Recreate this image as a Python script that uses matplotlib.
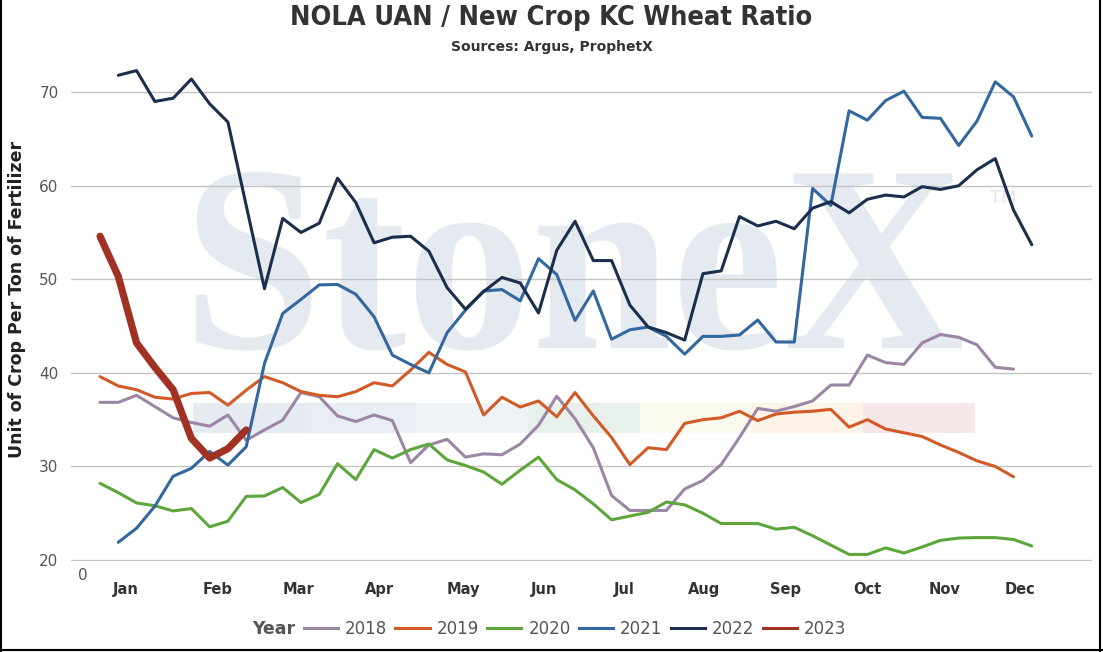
import matplotlib.pyplot as plt
from matplotlib.lines import Line2D
from matplotlib.patches import Rectangle, PathPatch
from matplotlib.textpath import TextPath
from matplotlib.font_manager import FontProperties
from matplotlib.transforms import Affine2D

# weekly NOLA UAN / new crop KC wheat ratio, week 1 = first week of January
years = ["2018", "2019", "2020", "2021", "2022", "2023"]
first_week = [1, 1, 1, 2, 2, 1]

ratio_2018 = [36.85, 36.85, 37.6, 36.4, 35.2, 34.7, 34.3, 35.5, 32.8, 33.9,
              34.95, 37.9, 37.45, 35.4, 34.8, 35.5, 34.9, 30.4, 32.3, 32.9,
              31.0, 31.35, 31.25, 32.4, 34.4, 37.5, 35.1, 32.0, 26.9, 25.3,
              25.3, 25.3, 27.6, 28.5, 30.2, 33.1, 36.2, 35.9, 36.4, 37.0,
              38.7, 38.7, 41.9, 41.1, 40.9, 43.2, 44.1, 43.8, 43.0, 40.6,
              40.4]
ratio_2019 = [39.6, 38.6, 38.2, 37.4, 37.2, 37.8, 37.9, 36.55, 38.15, 39.6,
              38.95, 38.0, 37.6, 37.45, 38.0, 38.95, 38.6, 40.3, 42.2, 40.9,
              40.1, 35.5, 37.4, 36.35, 37.0, 35.3, 37.9, 35.4, 33.1, 30.2,
              32.0, 31.8, 34.6, 35.0, 35.2, 35.9, 34.9, 35.6, 35.8, 35.9,
              36.1, 34.2, 35.0, 34.0, 33.6, 33.2, 32.3, 31.5, 30.6, 30.0,
              28.9]
ratio_2020 = [28.2, 27.2, 26.1, 25.8, 25.25, 25.5, 23.55, 24.15, 26.8, 26.85,
              27.75, 26.15, 27.0, 30.3, 28.6, 31.8, 30.9, 31.8, 32.4, 30.7,
              30.1, 29.4, 28.1, 29.6, 31.0, 28.6, 27.5, 26.0, 24.3, 24.7,
              25.1, 26.2, 25.9, 25.0, 23.9, 23.9, 23.9, 23.3, 23.5, 22.6,
              21.6, 20.6, 20.6, 21.3, 20.75, 21.4, 22.1, 22.35, 22.4, 22.4,
              22.2, 21.5]
ratio_2021 = [21.9, 23.4, 25.75, 28.95, 29.8, 31.6, 30.15, 32.1, 41.0, 46.35,
              47.85, 49.4, 49.45, 48.4, 46.0, 41.9, 40.9, 40.0, 44.3, 46.7,
              48.75, 48.9, 47.7, 52.2, 50.5, 45.6, 48.75, 43.6, 44.6, 44.9,
              43.9, 42.0, 43.9, 43.9, 44.05, 45.65, 43.3, 43.3, 59.7, 57.9,
              68.0, 67.0, 69.1, 70.1, 67.3, 67.2, 64.3, 66.9, 71.1, 69.5,
              65.3]
ratio_2022 = [71.8, 72.3, 69.0, 69.35, 71.4, 68.75, 66.8, 57.9, 49.0, 56.5,
              55.0, 56.0, 60.8, 58.2, 53.9, 54.5, 54.6, 53.0, 49.1, 46.8,
              48.7, 50.2, 49.6, 46.4, 53.1, 56.2, 52.0, 52.0, 47.25, 44.9,
              44.3, 43.5, 50.6, 50.9, 56.7, 55.7, 56.2, 55.4, 57.6, 58.3,
              57.1, 58.55, 59.0, 58.8, 59.9, 59.6, 60.0, 61.7, 62.9, 57.4,
              53.7]
ratio_2023 = [54.6, 50.3, 43.2, 40.6, 38.2, 33.0, 30.9, 31.9, 33.9]

series = [ratio_2018, ratio_2019, ratio_2020, ratio_2021, ratio_2022, ratio_2023]
colors = ["#9b86a6", "#d15a27", "#5ea63c", "#33679f", "#1b2e4c", "#a13223"]
widths = [2.2, 2.2, 2.2, 2.2, 2.2, 5.2]

month_labels = ["Jan", "Feb", "Mar", "Apr", "May", "Jun",
                "Jul", "Aug", "Sep", "Oct", "Nov", "Dec"]
month_ticks = [2.42, 7.46, 11.84, 16.3, 20.9, 25.3,
               29.7, 34.06, 38.5, 42.98, 47.2, 51.35]
y_ticks = [20, 30, 40, 50, 60, 70]

band_colors = ["#e6eaf1", "#e9eef5", "#eef3f8", "#e7f0ea",
               "#fafaee", "#fdf4e7", "#f8e7e9"]

fig = plt.figure(figsize=(11.03, 6.52), dpi=100)
ax = fig.add_axes([0.0644, 0.1396, 0.9257, 0.7837])
ax.set_xlim(-0.587, 55.3)
ax.set_ylim(19.9, 74.5)

# StoneX watermark behind the data
tp = TextPath((0, 0), "StoneX", size=1,
              prop=FontProperties(family="Liberation Serif", weight="bold"))
bb = tp.get_extents()
sx = (48.18 - 6.25) / bb.width
sy = (61.5 - 42.65) / bb.ymax
wm = Affine2D().scale(sx, sy).translate(6.25 - bb.xmin * sx, 42.65)
ax.add_patch(PathPatch(tp, transform=wm + ax.transData,
                       facecolor="#e5e9f0", edgecolor="none", zorder=0.1))
ax.text(49.7, 58.1, "TM", fontsize=13, color="#e2e6ee", zorder=0.1)
seg = 6.114
for i, c in enumerate(band_colors):
    ax.add_patch(Rectangle((6.09 + i * seg, 33.53), seg, 3.27,
                           facecolor=c, edgecolor="none", zorder=0.1))

for vals, start, c, lw in zip(series, first_week, colors, widths):
    weeks = list(range(start, start + len(vals)))
    ax.plot(weeks, vals, color=c, lw=lw, solid_capstyle="round",
            solid_joinstyle="round", zorder=2)

ax.set_axisbelow(True)
ax.yaxis.grid(True, color="#c4c4c4", lw=1.0)
for s in ax.spines.values():
    s.set_visible(False)

ax.set_yticks(y_ticks)
ax.set_yticklabels([str(v) for v in y_ticks], fontsize=11, color="#555555")
ax.tick_params(axis="y", length=0, pad=9)
ax.set_xticks(month_ticks)
ax.set_xticklabels(month_labels, fontsize=10.5, fontweight="bold", color="#333333")
ax.tick_params(axis="x", length=0, pad=15)

fig.text(78 / 1103, 1 - 575 / 652, "0", fontsize=11, color="#555555", va="center")

fig.text(17 / 1103, 1 - 299 / 652, "Unit of Crop Per Ton of Fertilizer",
         rotation=90, fontsize=12.5, fontweight="bold", color="#222222",
         ha="center", va="center")
fig.text(0.5, 1 - 18 / 652, "NOLA UAN / New Crop KC Wheat Ratio",
         fontsize=19.5, fontweight="bold", fontstretch="condensed", color="#333333",
         ha="center", va="center")
fig.text(0.5, 1 - 47 / 652, "Sources: Argus, ProphetX",
         fontsize=10, fontweight="bold", color="#333333", ha="center", va="center")

handles = [Line2D([], [], color=c, lw=2.2) for c in colors]
fig.legend(handles, years, loc="center", bbox_to_anchor=(575 / 1103, 1 - 629 / 652),
           ncol=6, frameon=False, fontsize=12, handlelength=2.05,
           handletextpad=0.42, columnspacing=0.5, labelcolor="#555555")
fig.text(295 / 1103, 1 - 629 / 652, "Year", fontsize=12.5, fontweight="bold",
         color="#555555", ha="right", va="center")

# outer frame
fig.add_artist(Line2D([0.001, 0.001], [0, 1], color="black", lw=1.5, transform=fig.transFigure))
fig.add_artist(Line2D([0.9975, 0.9975], [0, 1], color="black", lw=1.5, transform=fig.transFigure))
fig.add_artist(Line2D([0, 1], [0.003, 0.003], color="black", lw=1.5, transform=fig.transFigure))

fig.savefig("out.png", dpi=100)
